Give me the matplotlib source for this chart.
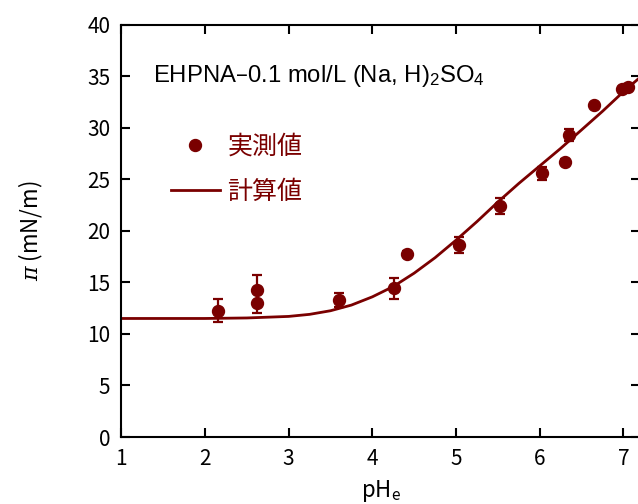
import matplotlib
matplotlib.use("Agg")
import matplotlib.pyplot as plt

plt.rcParams['font.family'] = ['Noto Sans CJK JP', 'DejaVu Sans']
plt.rcParams['mathtext.fontset'] = 'dejavuserif'

# Measured surface pressure vs. equilibrium pH
ph_measured = [2.15, 2.62, 2.62, 3.60, 4.26, 4.41, 5.03, 5.53, 6.03, 6.30, 6.35, 6.65, 6.98, 7.05]
pi_measured = [12.25, 14.26, 13.03, 13.29, 14.42, 17.75, 18.65, 22.39, 25.57, 26.70, 29.29, 32.20, 33.80, 34.00]
pi_error = [1.1, 1.5, 1.0, 0.7, 1.0, 0.3, 0.8, 0.75, 0.6, 0.3, 0.55, 0.2, 0.2, 0.2]

# Calculated curve
ph_calc = [1.0, 1.5, 2.0, 2.5, 3.0, 3.25, 3.5, 3.75, 4.0, 4.25, 4.5, 4.75,
           5.0, 5.25, 5.5, 5.75, 6.0, 6.25, 6.5, 6.75, 7.0, 7.2]
pi_calc = [11.5, 11.5, 11.5, 11.55, 11.7, 11.9, 12.25, 12.8, 13.6, 14.6, 15.9, 17.4,
           19.1, 20.9, 22.8, 24.6, 26.3, 28.0, 29.8, 31.6, 33.5, 34.9]

x_ticks = [1, 2, 3, 4, 5, 6, 7]
y_ticks = [0, 5, 10, 15, 20, 25, 30, 35, 40]

color = '#7a0000'

fig = plt.figure(figsize=(6.38, 5.04), dpi=100)
ax = fig.add_axes([0.1901, 0.1329, 1.0034 - 0.1901, 0.951 - 0.1329])

calc_line, = ax.plot(ph_calc, pi_calc, color=color, lw=2.0, zorder=2)
ax.errorbar(ph_measured, pi_measured, yerr=pi_error, fmt='none', ecolor=color,
            elinewidth=1.6, capsize=3.5, capthick=1.6, zorder=3)
meas_line, = ax.plot(ph_measured, pi_measured, 'o', color=color, ms=8.6,
                     mec=color, zorder=4, linestyle='none')

ax.set_xlim(1, 7.2)
ax.set_ylim(0, 40)
ax.set_xticks(x_ticks)
ax.set_yticks(y_ticks)
ax.tick_params(direction='in', length=6.5, width=1.5, top=True, right=True,
               labelsize=15, pad=8)
for sp in ax.spines.values():
    sp.set_linewidth(1.5)

ax.set_xlabel('pH$\\mathregular{_e}$', fontsize=16, labelpad=6)
ax.set_ylabel('$\\pi$ (mN/m)', fontsize=16, labelpad=30)

ax.text(0.061, 0.860, 'EHPNA\u20130.1 mol/L (Na, H)$\\mathregular{_2}$SO$\\mathregular{_4}$',
        transform=ax.transAxes, fontsize=17.2, va='baseline', ha='left',
        family=['Liberation Sans', 'DejaVu Sans'])

ax.legend([meas_line, calc_line], ['実測値', '計算値'], loc='upper left',
          bbox_to_anchor=(0.095, 0.735), frameon=False, fontsize=18,
          labelcolor=color, handlelength=1.96, handletextpad=0.32,
          borderpad=0, borderaxespad=0, labelspacing=0.75, numpoints=1)

fig.savefig('out.png', dpi=100)
